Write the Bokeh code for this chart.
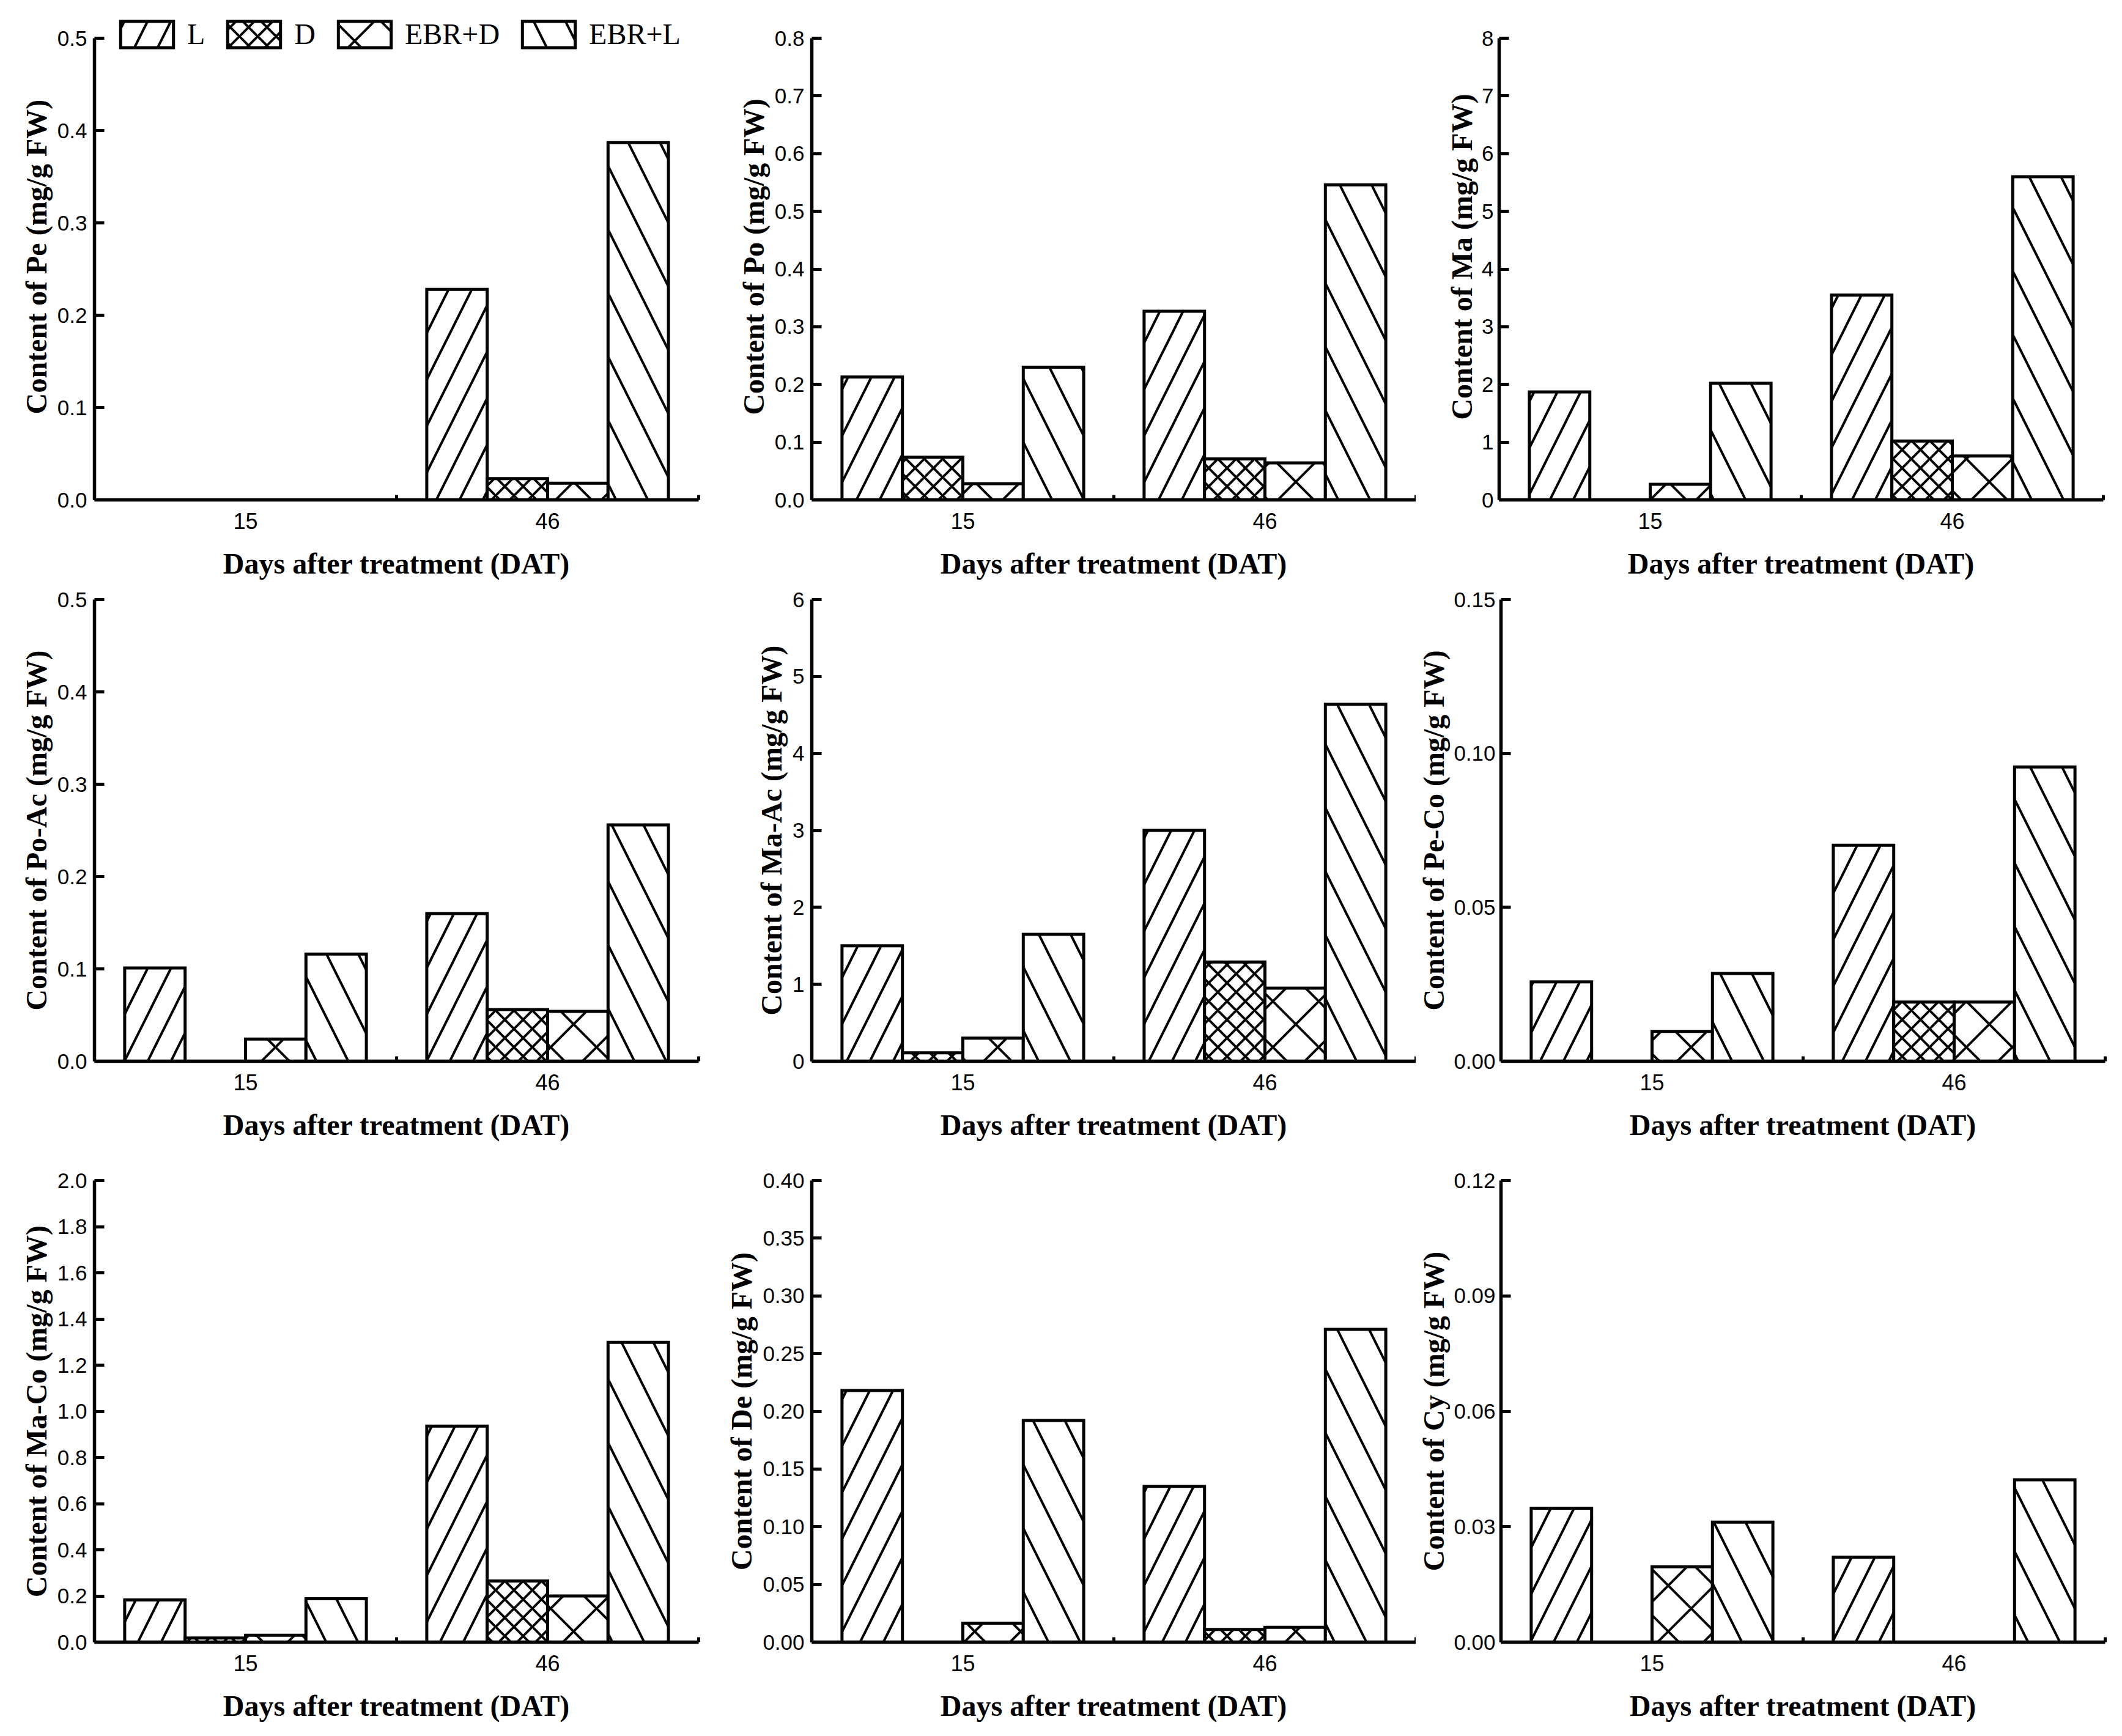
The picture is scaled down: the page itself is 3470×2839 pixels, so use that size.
import numpy as np
from bokeh.plotting import figure
from bokeh.models import (Range1d, FixedTicker, PrintfTickFormatter, Legend, LegendItem,
                          ColumnDataSource)
from bokeh.layouts import column, row
from bokeh.embed import file_html
from bokeh.resources import INLINE

# ---------------- data ----------------
days = ["15", "46"]
treatments = ["L", "D", "EBR+D", "EBR+L"]

# each list: values per treatment (L, D, EBR+D, EBR+L), entries = [15 DAT, 46 DAT]
pe_vals = [[0.0, 0.228], [0.0, 0.023], [0.0, 0.018], [0.0, 0.387]]
po_vals = [[0.213, 0.327], [0.074, 0.071], [0.028, 0.064], [0.230, 0.546]]
ma_vals = [[1.87, 3.55], [0.0, 1.02], [0.27, 0.76], [2.02, 5.60]]
poac_vals = [[0.101, 0.160], [0.0, 0.056], [0.024, 0.054], [0.116, 0.256]]
maac_vals = [[1.50, 3.00], [0.11, 1.29], [0.30, 0.95], [1.65, 4.64]]
peco_vals = [[0.0258, 0.0702], [0.0, 0.0192], [0.0097, 0.0192], [0.0285, 0.0956]]
maco_vals = [[0.183, 0.936], [0.018, 0.265], [0.030, 0.200], [0.188, 1.299]]
de_vals = [[0.218, 0.135], [0.0, 0.011], [0.0164, 0.0128], [0.192, 0.271]]
cy_vals = [[0.0348, 0.0221], [0.0, 0.0], [0.0196, 0.0], [0.0312, 0.0422]]

panel_names = ["Pe", "Po", "Ma", "Po-Ac", "Ma-Ac", "Pe-Co", "Ma-Co", "De", "Cy"]
panel_vals = [pe_vals, po_vals, ma_vals, poac_vals, maac_vals, peco_vals, maco_vals, de_vals, cy_vals]
y_max = [0.5, 0.8, 8, 0.5, 6, 0.15, 2.0, 0.40, 0.12]
y_step = [0.1, 0.1, 1, 0.1, 1, 0.05, 0.2, 0.05, 0.03]
y_fmt = ["%.1f", "%.1f", "%d", "%.1f", "%d", "%.2f", "%.1f", "%.2f", "%.2f"]

# ---------------- style ----------------
offsets = [-0.3, -0.1, 0.1, 0.3]
patterns = ["/", "x", "x", "\\"]
hscales = [76, 30, 75, 104]

FRAME_W, FRAME_H = 988, 755
EXTRA_TOP = 40  # room above the axis for the legend (first row)
col_borders = [(154, 39), (146, 0), (136, 10)]
col_standoffs = [(12, 5), (12, 5), (9, 3)]
row_borders = [(62, 145), (18, 145), (50, 145)]


def make_panel(k):
    ci, ri = k % 3, k // 3
    ml, mr = col_borders[ci]
    mt, mb = row_borders[ri]
    extra = EXTRA_TOP if ri == 0 else 0
    fh = FRAME_H + extra
    ytop = y_max[k] * fh / FRAME_H
    p = figure(frame_width=FRAME_W, frame_height=fh,
               x_range=Range1d(0.5, 2.5), y_range=Range1d(0, ytop),
               output_backend="svg", toolbar_location=None,
               min_border_left=ml, min_border_right=mr,
               min_border_top=mt - extra, min_border_bottom=mb)
    p.title = None
    p.outline_line_color = None
    p.grid.visible = False
    p.background_fill_color = "white"
    p.border_fill_color = "white"

    vals = panel_vals[k]
    rends = []
    for i, t in enumerate(treatments):
        xs = [j + 1 + offsets[i] for j in range(len(days))]
        src = ColumnDataSource(dict(x=xs, top=vals[i]))
        r = p.vbar(x="x", top="top", bottom=0, width=0.2, source=src,
                   fill_color="white", line_color="black", line_width=5,
                   line_join="miter",
                   hatch_pattern=patterns[i], hatch_scale=hscales[i],
                   hatch_weight=4, hatch_color="black")
        rends.append(r)

    # x axis
    xa = p.xaxis[0]
    xa.ticker = FixedTicker(ticks=[j + 1 for j in range(len(days))],
                            minor_ticks=[0.5 + j for j in range(len(days) + 1)])
    xa.major_label_overrides = {j + 1: d for j, d in enumerate(days)}
    xa.major_tick_in = 0
    xa.major_tick_out = 0
    xa.minor_tick_in = 8
    xa.minor_tick_out = 0
    xa.minor_tick_line_width = 5
    xa.minor_tick_line_color = "black"
    xa.axis_line_width = 5.5
    xa.axis_line_color = "black"
    xa.major_label_text_font = "Liberation Sans"
    xa.major_label_text_font_size = "36px"
    xa.major_label_text_color = "black"
    xa.major_label_standoff = 21
    xa.axis_label = "Days after treatment (DAT)"
    xa.axis_label_text_font = "Liberation Serif"
    xa.axis_label_text_font_style = "bold"
    xa.axis_label_text_font_size = "48px"
    xa.axis_label_text_color = "black"
    xa.axis_label_standoff = 27

    # y axis
    ya = p.yaxis[0]
    ticks = list(np.round(np.arange(0, y_max[k] + y_step[k] / 2, y_step[k]), 6))
    ya.ticker = FixedTicker(ticks=ticks, minor_ticks=[])
    ya.bounds = (0, y_max[k])
    ya.formatter = PrintfTickFormatter(format=y_fmt[k])
    ya.major_tick_in = 16
    ya.major_tick_out = 0
    ya.minor_tick_in = 0
    ya.minor_tick_out = 0
    ya.major_tick_line_width = 5
    ya.major_tick_line_color = "black"
    ya.axis_line_width = 5.5
    ya.axis_line_color = "black"
    ya.major_label_text_font = "Liberation Sans"
    ya.major_label_text_font_size = "35px"
    ya.major_label_text_color = "black"
    ya.major_label_standoff = col_standoffs[ci][0]
    ya.axis_label = "Content of %s (mg/g FW)" % panel_names[k]
    ya.axis_label_text_font = "Liberation Serif"
    ya.axis_label_text_font_style = "bold"
    ya.axis_label_text_font_size = "48px"
    ya.axis_label_text_color = "black"
    ya.axis_label_standoff = col_standoffs[ci][1]

    if k == 0:
        legend = Legend(items=[LegendItem(label=t, renderers=[r]) for t, r in zip(treatments, rends)],
                        orientation="horizontal", location=(32, 734),
                        glyph_width=108, glyph_height=54, label_height=54,
                        label_standoff=12, spacing=26, padding=0, margin=0,
                        border_line_alpha=0, background_fill_alpha=0,
                        label_text_font="Liberation Serif", label_text_font_size="48px",
                        label_text_color="black")
        p.add_layout(legend)
    return p


figs = [make_panel(k) for k in range(9)]
layout = column(row(*figs[0:3]), row(*figs[3:6]), row(*figs[6:9]))

open("out.html", "w").write(file_html(layout, INLINE))
